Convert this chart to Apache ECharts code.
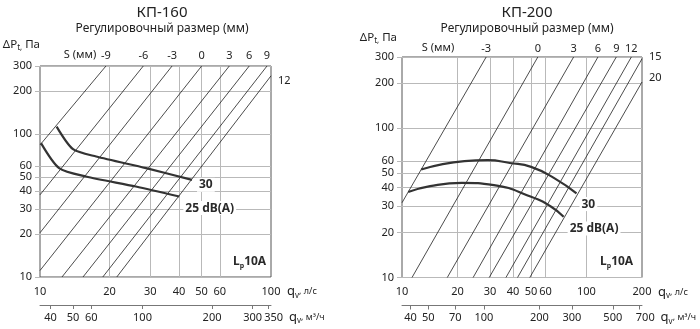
<!DOCTYPE html>
<html><head><meta charset="utf-8">
<script src="https://cdn.jsdelivr.net/npm/echarts@6/dist/echarts.min.js"></script>
<style>html,body{margin:0;padding:0;background:#fff}#c{width:700px;height:329px}</style>
</head><body><div id="c"></div><script>
// ---------- data ----------
const dpTicks = [10, 20, 30, 40, 50, 60, 100, 200, 300];           // ΔPt, Па
const kp160Flow = [10, 20, 30, 40, 50, 60, 100];                   // qv, л/с
const kp160FlowM3h = [40, 50, 60, 100, 200, 300, 350];             // qv, м³/ч
const kp200Flow = [10, 20, 30, 40, 50, 60, 100, 200];
const kp200FlowM3h = [40, 50, 70, 100, 200, 300, 500, 700];

// КП-160 damper setting lines S (мм): [q л/с, ΔP Па] end points
const kp160S = ['-9', '-6', '-3', '0', '3', '6', '9', '12'];
const kp160Lines = [
  [[10, 84], [19.3, 300]],
  [[10, 37.6], [28, 300]],
  [[10, 20.4], [37.3, 300]],
  [[10, 11.1], [50.1, 300]],
  [[12.45, 10], [66, 300]],
  [[15.35, 10], [80.5, 300]],
  [[18.7, 10], [96.1, 300]],
  [[21.5, 10], [100, 256]]
];
const kp160Db30 = [[11.8, 113], [13.9, 78.5], [17.5, 69.7], [28.8, 57.8], [45.5, 47.9]];
const kp160Db25 = [[10.1, 86.5], [12.1, 57.8], [15.8, 50.5], [26, 43], [40.1, 36.6]];

// КП-200
const kp200S = ['-3', '0', '3', '6', '9', '12', '15', '20'];
const kp200Lines = [
  [[10, 31.7], [28.6, 300]],
  [[11.33, 10], [54.5, 300]],
  [[17.6, 10], [85.2, 300]],
  [[24.3, 10], [115.4, 300]],
  [[29.7, 10], [145.1, 300]],
  [[36.6, 10], [175.1, 300]],
  [[42.3, 10], [200, 292]],
  [[49.3, 10], [200, 204]]
];
const kp200Db30 = [[12.7, 52.9], [21.8, 60.2], [29.2, 61.1], [38.4, 58.5], [50.1, 55.1], [67.2, 46.1], [88.3, 36.6]];
const kp200Db25 = [[10.8, 37.4], [14.2, 40.9], [21.1, 43.1], [31.5, 41.6], [50.1, 34.7], [64.4, 29.8], [75.2, 25.5]];

// ---------- styling ----------
const FONT = 'Noto Sans';
const TXT = '#222', AX = '#555', GRID = '#b9b9b9';
const nameRich = {
  q: {fontSize: 13, color: TXT, lineHeight: 16, fontFamily: FONT},
  v: {fontSize: 8, color: TXT, lineHeight: 8, verticalAlign: 'bottom', fontFamily: FONT},
  u: {fontSize: 9, color: TXT, fontFamily: FONT}
};
const dpRich = {
  a: {fontSize: 11.5, color: TXT, lineHeight: 15, fontFamily: FONT},
  s: {fontSize: 8, color: TXT, lineHeight: 8, verticalAlign: 'bottom', fontFamily: FONT}
};

function flowAxis(gi, min, max, ticks, gap) {
  return {
    type: 'log', gridIndex: gi, min: min, max: max, position: 'bottom',
    axisLine: {show: false},
    axisTick: {show: false, customValues: ticks.filter(v => v > min && v < max)},
    axisLabel: {customValues: ticks, fontSize: 11, color: TXT, margin: 9, hideOverlap: false,
                showMinLabel: true, showMaxLabel: true},
    splitLine: {show: true, lineStyle: {color: GRID, width: 1}},
    name: '{q|q}{v|v}{u|, л/с}', nameLocation: 'end', nameGap: gap,
    nameTextStyle: {padding: [29, 0, 0, 0], rich: nameRich}
  };
}
function m3Axis(gi, min, max, ticks, gap) {
  return {
    type: 'log', gridIndex: gi, min: min, max: max, position: 'bottom', offset: 28,
    axisLine: {show: true, lineStyle: {color: '#777', width: 1}},
    axisTick: {show: true, customValues: ticks, length: 4, inside: false, lineStyle: {color: '#777'}},
    axisLabel: {customValues: ticks, fontSize: 11, color: TXT, margin: 7, hideOverlap: false,
                showMinLabel: true, showMaxLabel: true,
                formatter: v => (v === ticks[ticks.length - 1] && max / v < 1.1 ? '{r|' + v + '}' : String(v)),
                rich: {r: {fontSize: 11, color: TXT, padding: [0, 0, 0, 11], fontFamily: FONT}}},
    splitLine: {show: false},
    name: '{q|q}{v|v}{u|, м³/ч}', nameLocation: 'end', nameGap: gap,
    nameTextStyle: {padding: [24, 0, 0, 0], rich: nameRich}
  };
}
function dpAxis(gi, gap, padR) {
  return {
    type: 'log', gridIndex: gi, min: 10, max: 300,
    axisLine: {show: false},
    axisTick: {show: true, customValues: dpTicks, length: 5, lineStyle: {color: GRID}},
    axisLabel: {customValues: dpTicks, fontSize: 11, color: TXT, margin: 8, hideOverlap: false,
                showMinLabel: true, showMaxLabel: true},
    splitLine: {show: true, lineStyle: {color: GRID, width: 1}},
    name: '{a|ΔP}{s|t,}{a| Па}', nameLocation: 'end', nameGap: gap,
    nameTextStyle: {align: 'right', padding: [0, padR, 0, 0], rich: dpRich}
  };
}

function sSeries(lines, labels, gi, xMax, topLift, rightShift) {
  return lines.map((pts, i) => {
    const atRight = pts[pts.length - 1][0] >= xMax;
    return {
      type: 'line', name: 'S ' + labels[i], xAxisIndex: gi * 2, yAxisIndex: gi,
      data: pts, symbol: 'none', silent: true,
      lineStyle: {color: '#1e1e1e', width: 0.8},
      endLabel: atRight
        ? {show: true, formatter: labels[i], align: 'left', verticalAlign: 'middle', distance: 7,
           offset: [0, rightShift[labels[i]] || 0], fontSize: 11, color: TXT}
        : {show: true, formatter: labels[i], align: 'center', verticalAlign: 'bottom', distance: 0,
           offset: [0, -topLift], fontSize: 11, color: TXT}
    };
  });
}
function dbSeries(data, gi, text, dist, dy, smooth) {
  return {
    type: 'line', name: text, xAxisIndex: gi * 2, yAxisIndex: gi, data: data,
    symbol: 'none', silent: true, smooth: smooth, z: 3,
    lineStyle: {color: '#333', width: 2.2},
    endLabel: {show: true, formatter: text, align: 'left', verticalAlign: 'middle', distance: dist,
      offset: [0, dy], fontSize: 12, fontWeight: 'bold', color: '#2a2a2a',
      backgroundColor: '#fff', padding: [1, 2]}
  };
}

const chart = echarts.init(document.getElementById('c'), null, {renderer: 'canvas'});
chart.setOption({
  animation: false,
  backgroundColor: '#fff',
  textStyle: {fontFamily: FONT},
  title: [
    {text: 'КП-160', subtext: 'Регулировочный размер (мм)', left: 157, top: 0, textAlign: 'center', itemGap: 3,
     textStyle: {fontSize: 15, fontWeight: 'normal', color: TXT, fontFamily: FONT},
     subtextStyle: {fontSize: 12, color: TXT, fontFamily: FONT}},
    {text: 'КП-200', subtext: 'Регулировочный размер (мм)', left: 522, top: 0, textAlign: 'center', itemGap: 3,
     textStyle: {fontSize: 15, fontWeight: 'normal', color: TXT, fontFamily: FONT},
     subtextStyle: {fontSize: 12, color: TXT, fontFamily: FONT}}
  ],
  grid: [
    {left: 40, top: 66, width: 231, height: 211, show: true, borderColor: AX, borderWidth: 1,
     backgroundColor: 'transparent', containLabel: false, outerBoundsMode: 'none'},
    {left: 402, top: 57, width: 240, height: 220.5, show: true, borderColor: AX, borderWidth: 1,
     backgroundColor: 'transparent', containLabel: false, outerBoundsMode: 'none'}
  ],
  xAxis: [
    flowAxis(0, 10, 100, kp160Flow, 16),
    m3Axis(0, 36, 360, kp160FlowM3h, 16),
    flowAxis(1, 10, 200, kp200Flow, 16),
    m3Axis(1, 36, 720, kp200FlowM3h, 11)
  ],
  yAxis: [dpAxis(0, 14, 0), dpAxis(1, 12, 5)],
  series: [].concat(
    sSeries(kp160Lines, kp160S, 0, 100, 4.5, {'12': 5}),
    sSeries(kp200Lines, kp200S, 1, 200, 3, {'15': -2, '20': -4}),
    [dbSeries(kp160Db30, 0, '30', 5, 5, 0.25),
     dbSeries(kp160Db25, 0, '25 dB(A)', 4, 11.6, 0.25),
     dbSeries(kp200Db30, 1, '30', 3, 10.7, 0.5),
     dbSeries(kp200Db25, 1, '25 dB(A)', 4, 11.6, 0.5)]
  ),
  graphic: [
    {type: 'text', x: 80, y: 55, style: {text: 'S (мм)', fontSize: 11, fill: TXT, align: 'center', verticalAlign: 'middle', fontFamily: FONT}},
    {type: 'text', x: 438, y: 47.5, style: {text: 'S (мм)', fontSize: 11, fill: TXT, align: 'center', verticalAlign: 'middle', fontFamily: FONT}},
    {type: 'text', x: 233, y: 262, style: {text: '{L|L}{p|p}{n|10A}', align: 'left', verticalAlign: 'middle',
      rich: {L: {fontSize: 12, fontWeight: 'bold', fill: '#2a2a2a', lineHeight: 15, fontFamily: FONT},
             p: {fontSize: 7, fontWeight: 'bold', fill: '#2a2a2a', lineHeight: 7, verticalAlign: 'bottom', fontFamily: FONT},
             n: {fontSize: 12, fontWeight: 'bold', fill: '#2a2a2a', lineHeight: 15, fontFamily: FONT}}}},
    {type: 'text', x: 600, y: 262, style: {text: '{L|L}{p|p}{n|10A}', align: 'left', verticalAlign: 'middle',
      rich: {L: {fontSize: 12, fontWeight: 'bold', fill: '#2a2a2a', lineHeight: 15, fontFamily: FONT},
             p: {fontSize: 7, fontWeight: 'bold', fill: '#2a2a2a', lineHeight: 7, verticalAlign: 'bottom', fontFamily: FONT},
             n: {fontSize: 12, fontWeight: 'bold', fill: '#2a2a2a', lineHeight: 15, fontFamily: FONT}}}}
  ]
});
</script></body></html>
